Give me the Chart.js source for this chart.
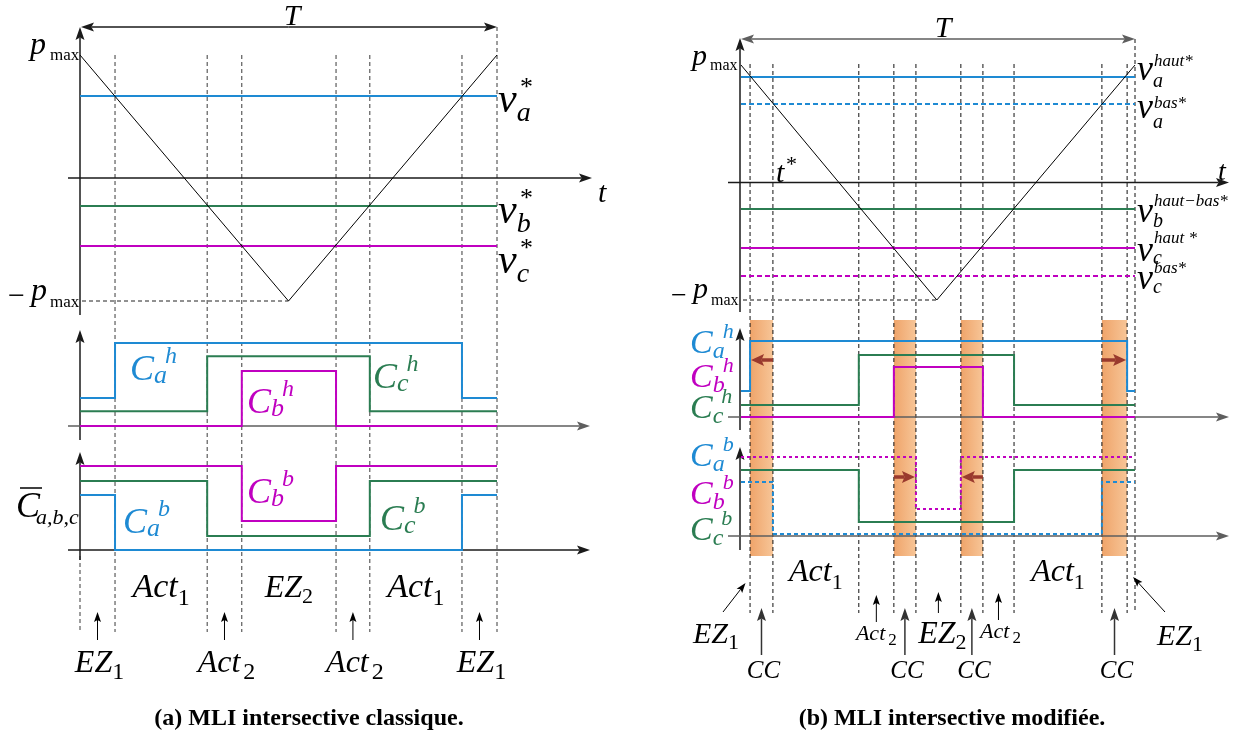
<!DOCTYPE html>
<html>
<head>
<meta charset="utf-8">
<script src="https://cdn.jsdelivr.net/npm/chart.js@4.4.1/dist/chart.umd.min.js"></script>
<style>
  html, body { margin: 0; padding: 0; background: #fff; }
  canvas { display: block; }
</style>
</head>
<body>
<canvas id="pwm" width="1236" height="738"></canvas>
<script>
// ---------- data (times are fractions of the period T) ----------
// (a) classic intersective PWM
var carrierA_t = [0, 0.5, 1];
var carrierA_p = [1, -1, 1];
var refA = [0.667, -0.228, -0.553];                 // va*, vb*, vc*
var switchA = [0.084, 0.305, 0.388, 0.614, 0.695, 0.916];
var caA_t = [0, 0.084, 0.916, 1];
var cbA_t = [0, 0.388, 0.614, 1];
var ccA_t = [0, 0.305, 0.695, 1];
var upperState = [0, 1, 0, 0];
var lowerState = [1, 0, 1, 1];

// (b) modified intersective PWM
var carrierB_t = [0, 0.497, 1];
var carrierB_p = [1, -1, 1];
var refB = [0.898, 0.668, -0.226, -0.557, -0.796];  // va haut, va bas, vb, vc haut, vc bas
var switchB = [0.023, 0.081, 0.299, 0.388, 0.444, 0.558, 0.614, 0.693, 0.916, 0.980];
var ccBands = [[0.023, 0.081], [0.388, 0.444], [0.558, 0.614], [0.916, 0.980]];
var caBh_t = [0, 0.023, 0.980, 1];
var caBb_t = [0, 0.081, 0.916, 1];
var cbBh_t = [0, 0.388, 0.614, 1];
var cbBb_t = [0, 0.444, 0.558, 1];
var ccB_t  = [0, 0.299, 0.693, 1];

// ---------- layout ----------
var W = 1236, H = 738;
var BLUE = '#1E8AD3', GREEN = '#2B7D52', MAG = '#C000C0', BROWN = '#9A3A2E';
var SERIF = '"Liberation Serif", "DejaVu Serif", serif';

function xRange(p0, p1) { var k = p1 - p0; return { min: -p0 / k, max: (W - p0) / k }; }
function yRange(base, k) { return { min: -(H - base) / k, max: base / k }; }
function axisCfg(axis, r) {
  return Object.assign({ type: 'linear', axis: axis, position: axis === 'x' ? 'bottom' : 'left',
    display: false, grid: { display: false } }, r);
}

// lane offsets so the logic signals do not overlap
var laneAh = { a: 0.51, c: 0.27, b: 0 };
var laneAl = { a: 0, c: 0.255, b: 0.527 };
var laneBh = { a: 0.52, c: 0.24, b: 0 };
var laneBl = { a: 0.04, c: 0.27, b: 0.52 };

function pts(ts, vs, off) {
  return ts.map(function (t, i) { return { x: t, y: vs[i] + (off || 0) }; });
}
function flat(v) { return pts([0, 1], [v, v]); }
function ds(data, xId, yId, color, width, dash, stepped) {
  return { data: data, xAxisID: xId, yAxisID: yId, borderColor: color, borderWidth: width,
    borderDash: dash || [], stepped: !!stepped, pointRadius: 0, fill: false, tension: 0,
    borderCapStyle: 'butt' };
}

var datasets = [
  // (a)
  ds(pts(carrierA_t, carrierA_p), 'xA', 'yRefA', '#000', 1),
  ds(flat(refA[0]), 'xA', 'yRefA', BLUE, 2),
  ds(flat(refA[1]), 'xA', 'yRefA', GREEN, 2),
  ds(flat(refA[2]), 'xA', 'yRefA', MAG, 2),
  ds(pts(caA_t, upperState, laneAh.a), 'xA', 'yHA', BLUE, 2, null, true),
  ds(pts(ccA_t, upperState, laneAh.c), 'xA', 'yHA', GREEN, 2, null, true),
  ds(pts(cbA_t, upperState, laneAh.b), 'xA', 'yHA', MAG, 2, null, true),
  ds(pts(caA_t, lowerState, laneAl.a), 'xA', 'yLA', BLUE, 2, null, true),
  ds(pts(ccA_t, lowerState, laneAl.c), 'xA', 'yLA', GREEN, 2, null, true),
  ds(pts(cbA_t, lowerState, laneAl.b), 'xA', 'yLA', MAG, 2, null, true),
  // (b)
  ds(pts(carrierB_t, carrierB_p), 'xB', 'yRefB', '#000', 1),
  ds(flat(refB[0]), 'xB', 'yRefB', BLUE, 2),
  ds(flat(refB[1]), 'xB', 'yRefB', BLUE, 2, [5, 3]),
  ds(flat(refB[2]), 'xB', 'yRefB', GREEN, 2),
  ds(flat(refB[3]), 'xB', 'yRefB', MAG, 2),
  ds(flat(refB[4]), 'xB', 'yRefB', MAG, 2, [5, 3]),
  ds(pts(caBh_t, upperState, laneBh.a), 'xB', 'yHB', BLUE, 2, null, true),
  ds(pts(ccB_t, upperState, laneBh.c), 'xB', 'yHB', GREEN, 2, null, true),
  ds(pts(cbBh_t, upperState, laneBh.b), 'xB', 'yHB', MAG, 2, null, true),
  ds(pts(caBb_t, lowerState, laneBl.a), 'xB', 'yLB', BLUE, 2, [4, 3], true),
  ds(pts(ccB_t, lowerState, laneBl.c), 'xB', 'yLB', GREEN, 2, null, true),
  ds(pts(cbBb_t, lowerState, laneBl.b), 'xB', 'yLB', MAG, 2, [3, 3], true)
];

// ---------- drawing helpers ----------
function line(ctx, x1, y1, x2, y2, color, width, dash) {
  ctx.save();
  ctx.strokeStyle = color; ctx.lineWidth = width; ctx.setLineDash(dash || []);
  ctx.beginPath(); ctx.moveTo(x1, y1); ctx.lineTo(x2, y2); ctx.stroke();
  ctx.restore();
}
function head(ctx, x, y, ang, len, wid, color) {
  ctx.save();
  ctx.translate(x, y); ctx.rotate(ang);
  ctx.fillStyle = color;
  ctx.beginPath(); ctx.moveTo(0, 0); ctx.lineTo(-len, -wid / 2); ctx.lineTo(-len * 0.8, 0);
  ctx.lineTo(-len, wid / 2); ctx.closePath(); ctx.fill();
  ctx.restore();
}
function arrow(ctx, x1, y1, x2, y2, color, width, len, wid) {
  var ang = Math.atan2(y2 - y1, x2 - x1);
  line(ctx, x1, y1, x2 - Math.cos(ang) * len * 0.8, y2 - Math.sin(ang) * len * 0.8, color, width);
  head(ctx, x2, y2, ang, len, wid, color);
}
function font(size, style) { return (style || 'italic') + ' ' + size + 'px ' + SERIF; }
function txt(ctx, s, x, y, size, color, style, align) {
  ctx.font = font(size, style);
  ctx.fillStyle = color || '#000';
  ctx.textAlign = align || 'left';
  ctx.textBaseline = 'alphabetic';
  ctx.fillText(s, x, y);
  ctx.textAlign = 'left';
  return ctx.measureText(s).width;
}
// base with subscript and superscript
function sym(ctx, x, y, base, sub, sup, color, o) {
  var w = txt(ctx, base, x, y, o.bs, color);
  var sw = sub ? txt(ctx, sub, x + w + (o.sdx || 0), y + o.sdy, o.ss, color) : 0;
  if (sup) txt(ctx, sup, x + w + (o.pdx !== undefined ? o.pdx : sw - 2), y + o.pdy, o.ps, color);
}
// centred italic label with upright subscript
function subLabel(ctx, cx, y, base, sub, size, subSize, subDy, subDx) {
  ctx.font = font(size);
  var w1 = ctx.measureText(base).width;
  ctx.font = font(subSize, 'normal');
  var w2 = ctx.measureText(sub).width;
  var x = cx - (w1 + w2 + (subDx || 0)) / 2;
  txt(ctx, base, x, y, size);
  txt(ctx, sub, x + w1 + (subDx || 0), y + subDy, subSize, '#000', 'normal');
}

var diagram = {
  id: 'diagram',
  beforeDatasetsDraw: function (chart) {
    var ctx = chart.ctx, s = chart.scales;
    var xA = function (t) { return s.xA.getPixelForValue(t); };
    var xB = function (t) { return s.xB.getPixelForValue(t); };

    // CC bands
    ccBands.forEach(function (b) {
      var x0 = xB(b[0]), x1 = xB(b[1]);
      var g = ctx.createLinearGradient(x0, 0, x1, 0);
      g.addColorStop(0, '#EFA46A'); g.addColorStop(1, '#F7C597');
      ctx.fillStyle = g;
      ctx.fillRect(x0, 320, x1 - x0, 236);
    });

    // guide lines
    var GD = [4, 3], GC = '#3a3a3a';
    switchA.forEach(function (t) { line(ctx, xA(t), s.yRefA.getPixelForValue(1), xA(t), 632, GC, 1, GD); });
    line(ctx, xA(1), 27, xA(1), 632, GC, 1, GD);
    line(ctx, xA(0), s.yLA.getPixelForValue(0) + 6, xA(0), 632, GC, 1, GD);
    switchB.forEach(function (t) { line(ctx, xB(t), s.yRefB.getPixelForValue(1) - 1, xB(t), 613, '#111', 1, GD); });
    line(ctx, xB(1), 39, xB(1), 613, '#111', 1, GD);

    // -pmax dashes
    line(ctx, xA(0) + 2, s.yRefA.getPixelForValue(-1), xA(carrierA_t[1]), s.yRefA.getPixelForValue(-1), '#222', 1, GD);
    line(ctx, xB(0) + 2, s.yRefB.getPixelForValue(-1), xB(carrierB_t[1]), s.yRefB.getPixelForValue(-1), '#111', 1, GD);

    // axes (a)
    var ax = xA(0), ink = '#1a1a1a', grey = '#5e5e5e';
    arrow(ctx, ax, 315, ax, 27, ink, 1.5, 13, 9);
    var y0 = s.yRefA.getPixelForValue(0);
    arrow(ctx, ax - 12, y0, 592, y0, ink, 1.5, 13, 9);
    arrow(ctx, ax, 440, ax, 330, ink, 1.5, 13, 9);
    y0 = s.yHA.getPixelForValue(0);
    arrow(ctx, ax - 12, y0, 590, y0, grey, 1.5, 13, 9);
    arrow(ctx, ax, 560, ax, 452, ink, 1.5, 13, 9);
    y0 = s.yLA.getPixelForValue(0);
    arrow(ctx, ax - 12, y0, 590, y0, ink, 1.5, 13, 9);
    // T arrow (a)
    arrow(ctx, xA(0.5), 27, xA(0) + 1, 27, ink, 1.5, 13, 9);
    arrow(ctx, xA(0.5), 27, xA(1), 27, ink, 1.5, 13, 9);

    // axes (b)
    var bx = xB(0) - 1;
    arrow(ctx, bx, 312, bx, 38, ink, 1.5, 13, 9);
    y0 = s.yRefB.getPixelForValue(0);
    arrow(ctx, bx - 12, y0, 1229, y0, ink, 1.5, 13, 9);
    arrow(ctx, bx, 430, bx, 328, ink, 1.5, 13, 9);
    y0 = s.yHB.getPixelForValue(0);
    arrow(ctx, bx - 12, y0, 1229, y0, grey, 1.5, 13, 9);
    arrow(ctx, bx, 550, bx, 447, ink, 1.5, 13, 9);
    y0 = s.yLB.getPixelForValue(0);
    arrow(ctx, bx - 12, y0, 1229, y0, grey, 1.5, 13, 9);
    arrow(ctx, xB(0.5), 39, bx + 1, 39, grey, 1.5, 13, 9);
    arrow(ctx, xB(0.5), 39, xB(1), 39, grey, 1.5, 13, 9);
  },
  afterDatasetsDraw: function (chart) {
    var ctx = chart.ctx, s = chart.scales;
    var xA = function (t) { return s.xA.getPixelForValue(t); };
    var xB = function (t) { return s.xB.getPixelForValue(t); };
    var mid = function (a, b) { return (a + b) / 2; };

    // brown commutation arrows
    arrow(ctx, xB(ccBands[0][1]), 360, xB(ccBands[0][0]) + 1, 360, BROWN, 3.5, 13, 12);
    arrow(ctx, xB(ccBands[3][0]), 360, xB(ccBands[3][1]) - 1, 360, BROWN, 3.5, 13, 12);
    arrow(ctx, xB(ccBands[1][0]), 477, xB(ccBands[1][1]) - 1, 477, BROWN, 3.5, 13, 12);
    arrow(ctx, xB(ccBands[2][1]), 477, xB(ccBands[2][0]) + 1, 477, BROWN, 3.5, 13, 12);

    // ---- texts (a) ----
    txt(ctx, 'T', 292, 25, 30, '#000', 'italic', 'center');
    txt(ctx, 'p', 30, 54, 32); txt(ctx, 'max', 50, 60, 17, '#000', 'normal');
    txt(ctx, '\u2212', 8, 305, 30, '#000', 'normal');
    txt(ctx, 'p', 31, 300, 32); txt(ctx, 'max', 50, 307, 17, '#000', 'normal');
    txt(ctx, 't', 598, 202, 30);
    var vo = { bs: 42, ss: 28, ps: 26, sdy: 9, pdy: -17, pdx: 2 };
    sym(ctx, 498, 112, 'v', 'a', '*', '#000', vo);
    sym(ctx, 498, 223, 'v', 'b', '*', '#000', vo);
    sym(ctx, 498, 273, 'v', 'c', '*', '#000', vo);
    var co = { bs: 36, ss: 26, ps: 24, sdy: 3, pdy: -17 };
    sym(ctx, 130, 380, 'C', 'a', 'h', BLUE, co);
    sym(ctx, 247, 413, 'C', 'b', 'h', MAG, co);
    sym(ctx, 373, 388, 'C', 'c', 'h', GREEN, co);
    sym(ctx, 123, 533, 'C', 'a', 'b', BLUE, co);
    sym(ctx, 247, 503, 'C', 'b', 'b', MAG, co);
    sym(ctx, 380, 530, 'C', 'c', 'b', GREEN, co);
    // C bar label
    txt(ctx, 'C', 16, 517, 36);
    line(ctx, 20, 488, 42, 488, '#000', 1.5);
    txt(ctx, 'a,b,c', 36, 524, 22);

    // interval labels (a)
    subLabel(ctx, xA(mid(switchA[0], switchA[1])), 597, 'Act', '1', 34, 24, 8);
    subLabel(ctx, xA(mid(switchA[2], switchA[3])), 597, 'EZ', '2', 32, 22, 6);
    subLabel(ctx, xA(mid(switchA[4], switchA[5])), 597, 'Act', '1', 34, 24, 8);
    var bottomA = [[0, switchA[0], 'EZ', '1'], [switchA[1], switchA[2], 'Act', '2'],
                   [switchA[3], switchA[4], 'Act', '2'], [switchA[5], 1, 'EZ', '1']];
    bottomA.forEach(function (b) {
      var cx = xA(mid(b[0], b[1]));
      arrow(ctx, cx, 640, cx, 612, '#000', 1, 10, 7);
      subLabel(ctx, cx + 2, 672, b[2], b[3], 32, 24, 7, b[2] === 'Act' ? 3 : 0);
    });

    // ---- texts (b) ----
    txt(ctx, 'T', 943, 37, 30, '#000', 'italic', 'center');
    txt(ctx, 'p', 692, 65, 30); txt(ctx, 'max', 710, 70, 16, '#000', 'normal');
    txt(ctx, '\u2212', 671, 304, 28, '#000', 'normal');
    txt(ctx, 'p', 693, 298, 30); txt(ctx, 'max', 711, 305, 16, '#000', 'normal');
    txt(ctx, 't', 1218, 180, 28);
    txt(ctx, 't', 776, 182, 30); txt(ctx, '*', 786, 171, 22, '#000', 'normal');
    var wo = { bs: 36, ss: 20, ps: 17, sdy: 7, pdy: -14, pdx: 1 };
    sym(ctx, 1137, 80, 'v', 'a', 'haut*', '#000', wo);
    sym(ctx, 1137, 118, 'v', 'a', 'bas*', '#000', { bs: 36, ss: 20, ps: 17, sdy: 10, pdy: -10, pdx: 1 });
    sym(ctx, 1137, 222, 'v', 'b', 'haut\u2212bas*', '#000', { bs: 36, ss: 20, ps: 17, sdy: 5, pdy: -16, pdx: 1 });
    sym(ctx, 1137, 261, 'v', 'c', 'haut *', '#000', { bs: 36, ss: 20, ps: 17, sdy: 3, pdy: -18, pdx: 1 });
    sym(ctx, 1137, 289, 'v', 'c', 'bas*', '#000', { bs: 36, ss: 20, ps: 17, sdy: 4, pdy: -16, pdx: 1 });
    var bo = { bs: 34, ss: 24, ps: 22, sdy: 5, pdy: -15 };
    sym(ctx, 690, 353, 'C', 'a', 'h', BLUE, bo);
    sym(ctx, 690, 387, 'C', 'b', 'h', MAG, bo);
    sym(ctx, 690, 418, 'C', 'c', 'h', GREEN, bo);
    sym(ctx, 690, 466, 'C', 'a', 'b', BLUE, bo);
    sym(ctx, 690, 504, 'C', 'b', 'b', MAG, bo);
    sym(ctx, 690, 540, 'C', 'c', 'b', GREEN, bo);

    // interval labels (b)
    subLabel(ctx, xB(mid(switchB[1], switchB[2])), 581, 'Act', '1', 32, 22, 8);
    subLabel(ctx, xB(mid(switchB[7], switchB[8])), 581, 'Act', '1', 32, 22, 8);
    var ax1 = xB(mid(switchB[2], switchB[3]));
    arrow(ctx, ax1, 622, ax1, 595, '#000', 1, 10, 7);
    subLabel(ctx, ax1, 640, 'Act', '2', 22, 17, 5, 3);
    var ax2 = xB(mid(switchB[6], switchB[7]));
    arrow(ctx, ax2, 620, ax2, 593, '#000', 1, 10, 7);
    subLabel(ctx, ax2 + 2, 638, 'Act', '2', 22, 17, 5, 3);
    var ez2 = xB(mid(switchB[4], switchB[5]));
    arrow(ctx, ez2, 613, ez2, 592, '#000', 1, 10, 7);
    subLabel(ctx, ez2 + 4, 643, 'EZ', '2', 32, 22, 6);
    ccBands.forEach(function (b) {
      var cx = xB(mid(b[0], b[1]));
      arrow(ctx, cx, 655, cx, 608, '#333', 1.5, 13, 9);
      txt(ctx, 'CC', cx + 2, 678, 25, '#000', 'italic', 'center');
    });
    arrow(ctx, 723, 612, xB(mid(0, switchB[0])), 583, '#000', 1, 10, 7);
    subLabel(ctx, 716, 643, 'EZ', '1', 30, 22, 6);
    arrow(ctx, 1165, 612, xB(mid(switchB[9], 1)) + 2, 577, '#000', 1, 10, 7);
    subLabel(ctx, 1180, 645, 'EZ', '1', 30, 22, 6);

    // captions
    txt(ctx, '(a) MLI intersective classique.', 309, 725, 24, '#000', 'bold', 'center');
    txt(ctx, '(b) MLI intersective modifi\u00e9e.', 952, 725, 24, '#000', 'bold', 'center');
  }
};

new Chart(document.getElementById('pwm'), {
  type: 'line',
  data: { datasets: datasets },
  options: {
    responsive: false,
    animation: false,
    events: [],
    layout: { padding: 0 },
    plugins: { legend: { display: false }, tooltip: { enabled: false } },
    scales: {
      xA: axisCfg('x', xRange(80, 497)),
      xB: axisCfg('x', xRange(741, 1135)),
      yRefA: axisCfg('y', yRange(178, 123)),
      yHA: axisCfg('y', yRange(426, 55)),
      yLA: axisCfg('y', yRange(550, 55)),
      yRefB: axisCfg('y', yRange(182.5, 117.5)),
      yHB: axisCfg('y', yRange(417, 50)),
      yLB: axisCfg('y', yRange(536, 52))
    }
  },
  plugins: [diagram]
});
</script>
</body>
</html>
